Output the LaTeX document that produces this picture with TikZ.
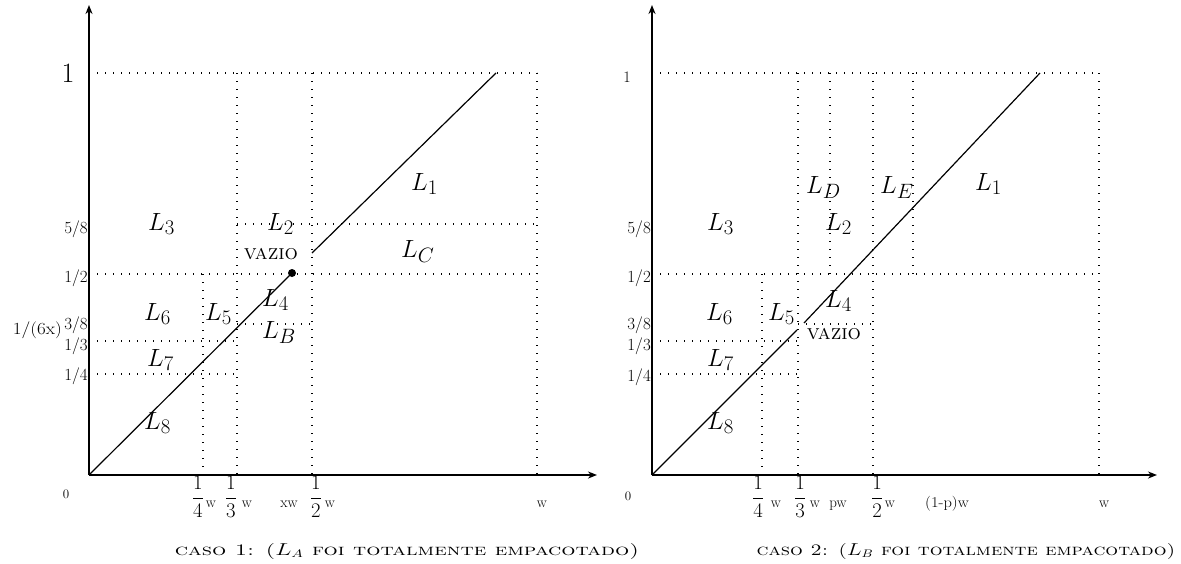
\documentclass[tikz,border=0pt]{standalone}
\usepackage{graphicx}
\usetikzlibrary{arrows.meta}
\tikzset{
  axis/.style={line width=2.6pt, -{Stealth[length=9pt,width=7pt]}},
  grid/.style={line width=1.1pt, dash pattern=on 1.1pt off 6.9pt},
  diag/.style={line width=1.2pt},
  lbl/.style={font=\fontsize{32}{34}\selectfont, inner sep=0, anchor=base west},
  tick/.style={font=\fontsize{17}{19}\selectfont, inner sep=0, anchor=base east},
  frac/.style={font=\fontsize{20}{22}\selectfont, inner sep=0},
  wlab/.style={font=\fontsize{15}{17}\selectfont, inner sep=0, anchor=base},
  vaz/.style={font=\fontsize{21}{23}\selectfont\scshape, inner sep=0},
  capt/.style={font=\fontsize{16}{18}\selectfont\scshape, inner sep=0, anchor=base},
}
\begin{document}
\begin{tikzpicture}[x=1pt,y=-1pt]
\useasboundingbox (0,0) rectangle (1181,563);
% ---------------- left panel ----------------
\coordinate (O1) at (89,475);
\coordinate (Y1) at (89,5);
\coordinate (X1) at (597,475);
\draw[grid] (89,73) -- (537,73);
\draw[grid] (89,274) -- (537,274);
\draw[grid] (237,224) -- (537,224);
\draw[grid] (237,324) -- (312,324);
\draw[grid] (89,341) -- (237,341);
\draw[grid] (89,374) -- (237,374);
\draw[grid] (237,73) -- (237,475);
\draw[grid] (312,73) -- (312,475);
\draw[grid] (537,73) -- (537,475);
\draw[grid] (203,274) -- (203,475);
\coordinate (D1) at (292,273);
\coordinate (S1) at (312,253);
\coordinate (T1) at (496,73);
\draw[diag] (O1) -- (D1);
\fill (D1) circle (4);
\draw[diag] (S1) -- (T1);
\draw[axis] (O1) -- (Y1);
\draw[axis] (O1) -- (X1);
\node[font=\fontsize{28}{30}\selectfont, inner sep=0] (one1) at (68,73) {1};
\node[tick] (a58) at (88,233) {5/8};
\node[tick] (a12) at (88,282) {1/2};
\node[tick] (a38) at (88,329) {3/8};
\node[tick] (a6x) at (62,334) {\scalebox{1.12}[1]{1/(6x)}};
\node[tick] (a13) at (88,350) {1/3};
\node[tick] (a14) at (88,380) {1/4};
\node[font=\fontsize{13}{15}\selectfont, inner sep=0] (z1) at (66,494) {0};
\node[frac] (f14) at (198,497) {$\displaystyle\frac{1}{4}$};
\node[wlab] (w14) at (211,507) {w};
\node[frac] (f13) at (231,497) {$\displaystyle\frac{1}{3}$};
\node[wlab] (w13) at (247,507) {w};
\node[wlab] (xw) at (289,507) {xw};
\node[frac] (f12) at (316,497) {$\displaystyle\frac{1}{2}$};
\node[wlab] (w12) at (330,507) {w};
\node[wlab] (ww1) at (542,507) {w};
\node[lbl] (L1a) at (411,190) {$L_1$};
\node[lbl] (L3a) at (148,230) {$L_3$};
\node[lbl] (L2a) at (267,230) {$L_2$};
\node[lbl] (LCa) at (401,257) {$L_C$};
\node[vaz] (Va) at (271,254) {vazio};
\node[lbl] (L6a) at (144,320) {$L_6$};
\node[lbl] (L5a) at (205,320) {$L_5$};
\node[lbl] (L4a) at (262,306) {$L_4$};
\node[lbl] (LBa) at (262,338) {$L_B$};
\node[lbl] (L7a) at (147,366) {$L_7$};
\node[lbl] (L8a) at (144,429) {$L_8$};
\node[capt] (cap1) at (407,555) {\scalebox{1.4}[1]{caso 1: ($L_A$ foi totalmente empacotado)}};
% ---------------- right panel ----------------
\coordinate (O2) at (652,475);
\coordinate (Y2) at (652,5);
\coordinate (X2) at (1157,475);
\draw[grid] (652,73) -- (1099,73);
\draw[grid] (652,274) -- (1099,274);
\draw[grid] (798,324) -- (873,324);
\draw[grid] (652,341) -- (798,341);
\draw[grid] (652,374) -- (798,374);
\draw[grid] (798,73) -- (798,475);
\draw[grid] (873,73) -- (873,475);
\draw[grid] (1099,73) -- (1099,475);
\draw[grid] (830,73) -- (830,274);
\draw[grid] (913,73) -- (913,274);
\draw[grid] (762,274) -- (762,475);
\coordinate (E2) at (797,330);
\coordinate (S2) at (804,323);
\coordinate (T2) at (1040,73);
\draw[diag] (O2) -- (E2);
\draw[diag] (S2) -- (T2);
\draw[axis] (O2) -- (Y2);
\draw[axis] (O2) -- (X2);
\node[font=\fontsize{16}{18}\selectfont, inner sep=0] (one2) at (627,77) {1};
\node[tick] (b58) at (651,233) {5/8};
\node[tick] (b12) at (651,282) {1/2};
\node[tick] (b38) at (651,329) {3/8};
\node[tick] (b13) at (651,350) {1/3};
\node[tick] (b14) at (651,381) {1/4};
\node[font=\fontsize{13}{15}\selectfont, inner sep=0] (z2) at (628,496) {0};
\node[frac] (g14) at (758,497) {$\displaystyle\frac{1}{4}$};
\node[wlab] (v14) at (776,507) {w};
\node[frac] (g13) at (800,497) {$\displaystyle\frac{1}{3}$};
\node[wlab] (v13) at (815,507) {w};
\node[wlab] (pw) at (838,507) {pw};
\node[frac] (g12) at (877,497) {$\displaystyle\frac{1}{2}$};
\node[wlab] (v12) at (890,507) {w};
\node[wlab] (qw) at (947,507) {\scalebox{1.1}[1]{(1-p)w}};
\node[wlab] (ww2) at (1104,507) {w};
\node[lbl] (L1b) at (975,190) {$L_1$};
\node[lbl] (LDb) at (806,193) {$L_D$};
\node[lbl] (LEb) at (880,193) {$L_E$};
\node[lbl] (L3b) at (707,230) {$L_3$};
\node[lbl] (L2b) at (825,230) {$L_2$};
\node[lbl] (L4b) at (825,307) {$L_4$};
\node[lbl] (L6b) at (706,320) {$L_6$};
\node[lbl] (L5b) at (768,320) {$L_5$};
\node[vaz] (Vb) at (834,334) {vazio};
\node[lbl] (L7b) at (707,366) {$L_7$};
\node[lbl] (L8b) at (707,429) {$L_8$};
\node[capt] (cap2) at (966,555) {\scalebox{1.26}[1]{caso 2: ($L_B$ foi totalmente empacotado)}};
\end{tikzpicture}
\end{document}
